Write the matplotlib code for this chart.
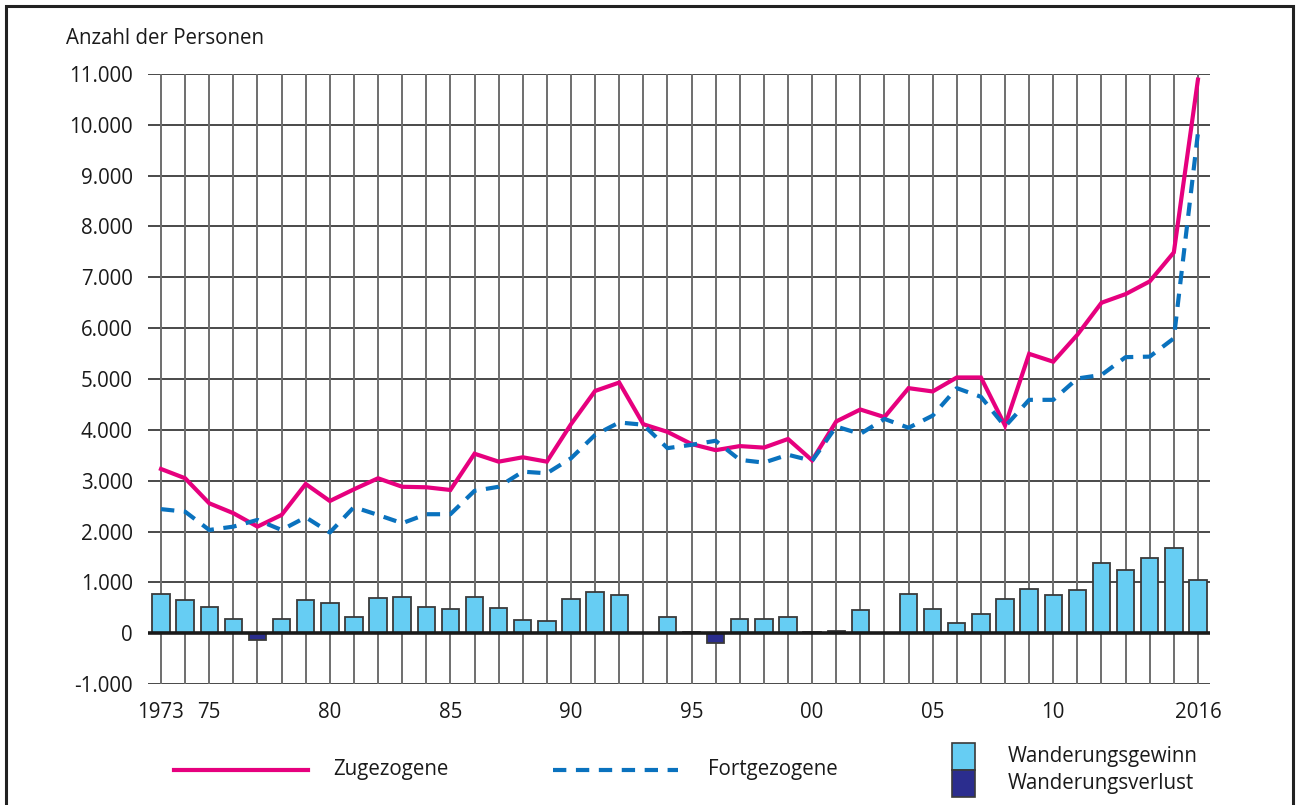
import matplotlib
matplotlib.use("Agg")
import matplotlib.pyplot as plt
from matplotlib.patches import Rectangle
from matplotlib.lines import Line2D
from matplotlib.ticker import FuncFormatter

plt.rcParams['font.family'] = ['Open Sans', 'DejaVu Sans']

years = list(range(1973, 2017))
zugezogene = [3230, 3047, 2555, 2360, 2096, 2326, 2935, 2600, 2830, 3047,
              2880, 2870, 2817, 3530, 3374, 3460, 3374, 4110, 4765, 4930,
              4110, 3960, 3720, 3600, 3680, 3650, 3820, 3400, 4165, 4400,
              4250, 4820, 4755, 5030, 5030, 4085, 5495, 5340, 5870, 6500,
              6670, 6920, 7490, 10890]
fortgezogene = [2440, 2390, 2030, 2096, 2228, 2030, 2280, 1980, 2480, 2326,
                2163, 2340, 2340, 2800, 2880, 3177, 3145, 3440, 3900, 4145,
                4100, 3640, 3705, 3785, 3410, 3355, 3510, 3390, 4065, 3920,
                4215, 4040, 4280, 4820, 4650, 4065, 4590, 4590, 5010, 5080,
                5430, 5440, 5800, 9840]
saldo = [780, 650, 520, 275, -140, 275, 650, 600, 320, 700,
         715, 505, 470, 715, 500, 260, 230, 675, 805, 755,
         10, 315, 30, -185, 280, 280, 320, 30, 50, 460,
         10, 780, 485, 205, 385, 680, 865, 750, 840, 1390,
         1245, 1470, 1680, 1055]

xtick_pos = [1973, 1975, 1980, 1985, 1990, 1995, 2000, 2005, 2010, 2016]
xtick_lab = ["1973", "75", "80", "85", "90", "95", "00", "05", "10", "2016"]

PINK = "#E6007E"
BLUE = "#0A72BE"
LIGHT = "#66CDF3"
DARK = "#2B2D8E"
TXT = "#1a1a1a"
FS = 14.8

W, H = 1300, 805
fig = plt.figure(figsize=(13, 8.05), dpi=100)
ax = fig.add_axes([148 / W, 1 - 684 / H, (1210 - 148) / W, (684 - 74) / H])

# grid
for y in range(-1000, 12000, 1000):
    ax.axhline(y, color="#3a3a3a", lw=1.3, zorder=1)
for x in years:
    ax.axvline(x, color="#6e6e6e", lw=1.4, zorder=1)
ax.axhline(0, color="#1a1a1a", lw=2.6, zorder=4)

colors = [LIGHT if v >= 0 else DARK for v in saldo]
ax.bar(years, saldo, width=0.72, color=colors, edgecolor="#3a3a3a",
       linewidth=1.3, zorder=3)

ax.plot(years, zugezogene, color=PINK, lw=3.0, zorder=5, solid_joinstyle="miter")
ax.plot(years, fortgezogene, color=BLUE, lw=3.0, zorder=5,
        dashes=(3.2, 2.3), dash_capstyle="butt")

ax.set_xlim(1972.46, 2016.5)
ax.set_ylim(-1000, 11000)
ax.set_yticks(range(-1000, 12000, 1000))
ax.yaxis.set_major_formatter(FuncFormatter(lambda v, p: f"{int(v):,}".replace(",", ".")))
ax.set_xticks(xtick_pos)
ax.set_xticklabels(xtick_lab)
ax.tick_params(axis="both", length=0, labelsize=FS, colors=TXT)
ax.tick_params(axis="y", pad=11)
ax.tick_params(axis="x", pad=13)
for s in ax.spines.values():
    s.set_visible(False)

fig.text(66 / W, 1 - 38 / H, "Anzahl der Personen", fontsize=FS, va="center",
         ha="left", color=TXT)

# legend
fig.add_artist(Line2D([174 / W, 308 / W], [1 - 770 / H, 1 - 770 / H],
                      color=PINK, lw=3.0))
fig.text(333 / W, 1 - 769 / H, "Zugezogene", fontsize=FS, va="center", color=TXT)
fig.add_artist(Line2D([553 / W, 678 / W], [1 - 770 / H, 1 - 770 / H],
                      color=BLUE, lw=3.0, dashes=(3.2, 2.3), dash_capstyle="butt"))
fig.text(708 / W, 1 - 769 / H, "Fortgezogene", fontsize=FS, va="center", color=TXT)
fig.add_artist(Rectangle((952 / W, 1 - 770 / H), 23 / W, 27 / H,
                         facecolor=LIGHT, edgecolor="#3a3a3a", lw=1.2,
                         transform=fig.transFigure))
fig.add_artist(Rectangle((952 / W, 1 - 797 / H), 23 / W, 27 / H,
                         facecolor=DARK, edgecolor="#3a3a3a", lw=1.2,
                         transform=fig.transFigure))
fig.text(1008 / W, 1 - 756 / H, "Wanderungsgewinn", fontsize=FS, va="center", color=TXT)
fig.text(1008 / W, 1 - 783 / H, "Wanderungsverlust", fontsize=FS, va="center", color=TXT)

# outer frame
fig.add_artist(Rectangle((6 / W, -0.01), 1287 / W, 1 - 6 / H + 0.01,
                         facecolor="none", edgecolor="#222222", lw=2.2,
                         transform=fig.transFigure))

fig.savefig("out.png", dpi=100)
